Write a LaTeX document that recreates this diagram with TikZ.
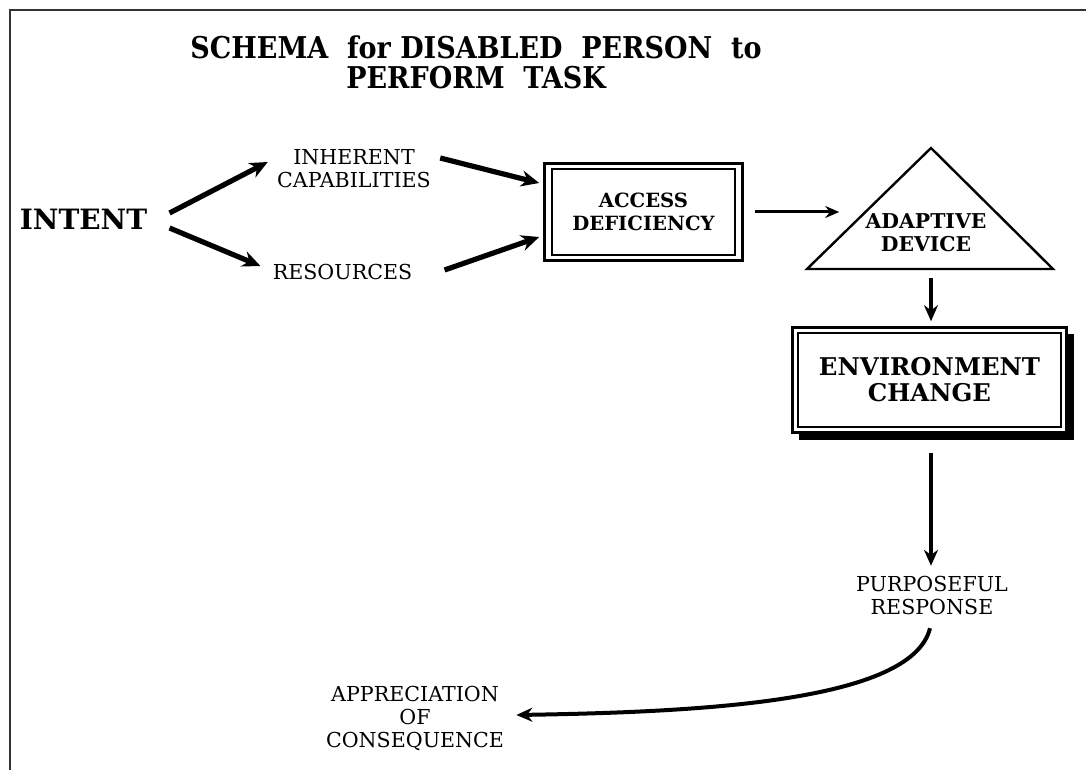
\documentclass[tikz,border=0pt]{standalone}
\usepackage{fontspec}
\setmainfont{DejaVu Serif}
\newfontfamily\condensed{DejaVu Serif Condensed}
\usetikzlibrary{arrows.meta,backgrounds}

\begin{document}
\begin{tikzpicture}[x=.5pt,y=-.5pt,
        txt/.style={inner sep=0pt,align=center,font=\fontsize{10.3}{11.5}\selectfont},
        boldtxt/.style={inner sep=0pt,align=center,font=\fontsize{9.8}{11.5}\selectfont\bfseries},
        framed/.style={draw,line width=.8pt,inner sep=0pt,align=center},
        fatarrow/.style={line width=2.6pt,-{Stealth[length=9pt,width=8pt]}},
        midarrow/.style={line width=2pt,-{Stealth[length=8pt,width=7pt]}},
        slimarrow/.style={line width=1.5pt,-{Stealth[length=7pt,width=6pt]}}]
    \useasboundingbox (0,0) rectangle (1086,770);
    % page frame, top and left only
    \draw[line width=1pt,black!80] (10,770) -- (10,10) -- (1086,10);
    % heading
    \node[inner sep=0pt,align=center,font=\condensed\bfseries\fontsize{15}{15}\selectfont] (title) at (476,62)
        {SCHEMA\ \ for DISABLED\ \ PERSON\ \ to\\PERFORM\ \ TASK};

    \node[inner sep=0pt,font=\fontsize{14}{16}\selectfont\bfseries] (intent) at (83.5,219) {INTENT};
    \node[txt] (inherent) at (354,169) {INHERENT\\CAPABILITIES};
    \node[txt] (resources) at (342.5,272.5) {RESOURCES};
    \node[framed,boldtxt,minimum width=91.5pt,minimum height=43pt] (access) at (643.5,212) {ACCESS\\DEFICIENCY};
    \draw[line width=1.6pt] ([shift={(-7,-5)}]access.north west) rectangle ([shift={(7,5)}]access.south east);

    % triangle for the device
    \draw[line width=1.2pt,line join=miter] (931,148) -- (807,269) -- (1053,269) -- cycle;
    \node[boldtxt,font=\fontsize{10.2}{11.5}\selectfont\bfseries] (adaptive) at (926,233) {ADAPTIVE\\DEVICE};

    \node[framed,font=\fontsize{12.2}{13}\selectfont\bfseries,minimum width=131.5pt,minimum height=47pt] (env) at (929.5,380)
        {ENVIRONMENT\\CHANGE};
    \begin{scope}[on background layer]
        \fill ([shift={(2,2)}]env.north west) rectangle ([shift={(12,12)}]env.south east);
        \filldraw[fill=white,line width=1.6pt] ([shift={(-5,-5)}]env.north west) rectangle ([shift={(5,5)}]env.south east);
    \end{scope}

    \node[txt] (purposeful) at (932,595) {PURPOSEFUL\\RESPONSE};
    \node[txt] (appreciation) at (415,718) {APPRECIATION\\OF\\CONSEQUENCE};

    % connectors
    \draw[fatarrow] ([shift={(22,-6)}]intent.east) -- ([shift={(-9,-7)}]inherent.west);
    \draw[fatarrow] ([shift={(22,9)}]intent.east) -- ([shift={(-12,-6.5)}]resources.west);
    \draw[fatarrow] ([shift={(9,-11)}]inherent.east) -- ([shift={(-12,-29)}]access.west);
    \draw[fatarrow] ([shift={(32,-2.5)}]resources.east) -- ([shift={(-12,25)}]access.west);
    \draw[slimarrow] ([shift={(19,0)}]access.east) -- ([shift={(-26,-21)}]adaptive.west);
    \draw[midarrow] ([shift={(5,25.5)}]adaptive.south) -- ([shift={(1.5,-11)}]env.north);
    \draw[midarrow] ([shift={(1.5,25)}]env.south) -- ([shift={(-1,-9.5)}]purposeful.north);
    \draw[midarrow] ([shift={(-2,13.5)}]purposeful.south)
        .. controls (912,702) and (700,712) .. ([shift={(12,-3)}]appreciation.east);
\end{tikzpicture}
\end{document}
